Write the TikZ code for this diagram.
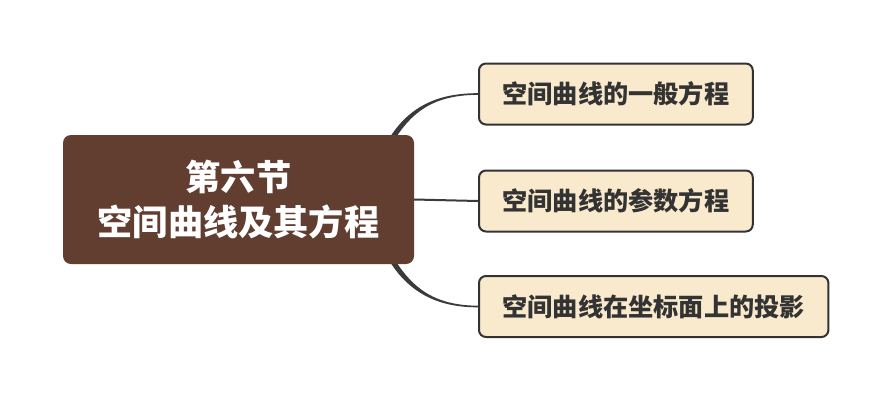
\documentclass[tikz,border=0pt]{standalone}
\usepackage{fontspec}
\newfontfamily\cjk{Noto Sans CJK SC}
\usetikzlibrary{calc}
\definecolor{brownfill}{HTML}{623E31}
\definecolor{beige}{HTML}{FAEACD}
\definecolor{dark}{HTML}{333333}
\definecolor{linec}{HTML}{3A3A3A}
\tikzset{
  mainbox/.style={rectangle, rounded corners=8pt, fill=brownfill, text=white,
    minimum width=351pt, minimum height=129pt, align=center, inner sep=0pt,
    font=\cjk\bfseries\fontsize{35.2}{45}\selectfont},
  childbox/.style={rectangle, rounded corners=7pt, fill=beige, draw=dark, line width=2pt,
    text=dark, minimum height=61pt, inner xsep=23.5pt, inner ysep=0pt,
    font=\cjk\bfseries\fontsize{25.2}{30}\selectfont},
  conn/.style={fill=linec}
}
\begin{document}
\begin{tikzpicture}[x=1pt,y=-1pt]
\useasboundingbox (0,0) rectangle (890,400);
\fill[white] (0,0) rectangle (890,400);
\node[childbox, anchor=west] (c1) at (478,94) {空间曲线的一般方程};
\node[childbox, anchor=west] (c2) at (478,201) {空间曲线的参数方程};
\node[childbox, anchor=west] (c3) at (478,306.5) {空间曲线在坐标面上的投影};
\coordinate (mne) at (414,135);
\coordinate (mse) at (414,264);
% connectors (drawn before the main node so it covers their ends)
\fill[conn] ($(mne)+(-27,7)$) .. controls ($(mne)+(-9,-24)$) and ($(c1.west)+(-46,-1)$) .. ($(c1.west)+(0,-0.8)$)
  -- ($(c1.west)+(0,0.8)$) .. controls ($(c1.west)+(-46,1)$) and ($(mne)+(-3,-22)$) .. ($(mne)+(-21,7)$) -- cycle;
\fill[conn] ($(mse)+(-27,-7)$) .. controls ($(mse)+(-9,24)$) and ($(c3.west)+(-46,1)$) .. ($(c3.west)+(0,0.8)$)
  -- ($(c3.west)+(0,-0.8)$) .. controls ($(c3.west)+(-46,-1)$) and ($(mse)+(-3,22)$) .. ($(mse)+(-21,-7)$) -- cycle;
\node[mainbox] (main) at (238.5,199.5) {第六节\\空间曲线及其方程};
\draw[linec, line width=2pt] (main.east) -- (c2.west);
\end{tikzpicture}
\end{document}
